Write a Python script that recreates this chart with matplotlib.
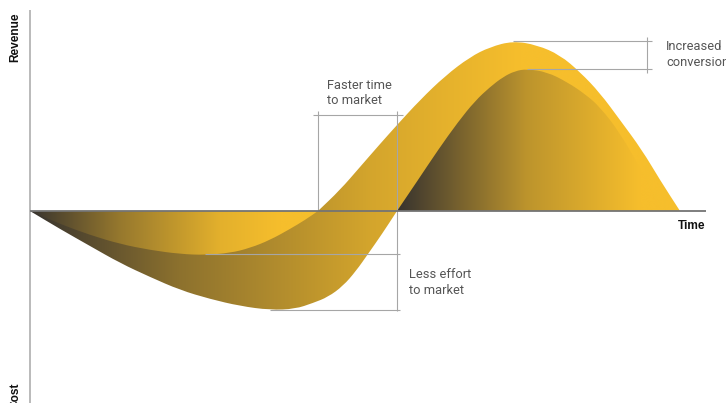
import numpy as np
import matplotlib
matplotlib.use("Agg")
import matplotlib.pyplot as plt
from matplotlib.patches import PathPatch
from matplotlib.path import Path

# Revenue/cost over time for two product launches
# (time on x, revenue positive / cost negative on y)
improved_t = [0, 30, 60, 90, 120, 150, 175, 200, 220, 240, 260, 275, 288,
              310, 330, 350, 367, 390, 415, 440, 460, 483, 507, 530, 550,
              570, 590, 612, 630, 650]
improved_v = [0, -13, -24, -33, -39, -43, -44, -42, -37, -29, -18, -9, 0,
              21, 44, 67, 86, 111, 135, 154, 164, 170, 166, 156, 139,
              118, 91, 61, 31, 0]

baseline_t = [0, 30, 60, 90, 120, 150, 180, 210, 240, 265, 283, 298, 313,
              326, 338, 352, 367, 388, 408, 428, 445, 460, 473, 485, 497,
              517, 537, 555, 570, 590, 610, 625, 631]
baseline_v = [0, -18, -35, -52, -66, -79, -88, -95, -99, -98, -92, -86, -75,
              -60, -43, -23, 0, 31, 61, 89, 110, 124, 134, 140, 142,
              139, 129, 117, 104, 78, 43, 13, 0]

axis_labels = {"revenue": "Revenue", "cost": "Cost", "time": "Time"}
notes = {"faster": "Faster time\nto market",
         "effort": "Less effort\nto market",
         "conversion": "Increased\nconversion"}

DARK = np.array([0x37, 0x33, 0x2F]) / 255
YELLOW = np.array([0xF6, 0xBE, 0x2C]) / 255


def smooth_segment(pts, first):
    """Quadratic spline path pieces running through a list of points."""
    pts = [np.asarray(p, float) for p in pts]
    verts = [pts[0]]
    codes = [Path.MOVETO if first else Path.LINETO]
    if len(pts) == 2:
        verts.append(pts[1])
        codes.append(Path.LINETO)
        return verts, codes
    verts.append((pts[0] + pts[1]) / 2)
    codes.append(Path.LINETO)
    for i in range(1, len(pts) - 1):
        verts += [pts[i], (pts[i] + pts[i + 1]) / 2]
        codes += [Path.CURVE3, Path.CURVE3]
    verts.append(pts[-1])
    codes.append(Path.LINETO)
    return verts, codes


def build_path(pieces):
    verts, codes = [], []
    for k, (pts, smooth) in enumerate(pieces):
        if smooth:
            v, c = smooth_segment(pts, k == 0)
        else:
            v = [np.asarray(p, float) for p in pts]
            c = [Path.MOVETO if k == 0 else Path.LINETO] + [Path.LINETO] * (len(pts) - 1)
        verts += v
        codes += c
    verts.append(verts[0])
    codes.append(Path.CLOSEPOLY)
    return Path(np.array(verts), codes)


def gradient_fill(ax, path, stop_x, stop_f, zorder):
    patch = PathPatch(path, facecolor="none", edgecolor="none")
    ax.add_patch(patch)
    (x0, y0), (x1, y1) = path.get_extents().get_points()
    gx = np.linspace(x0, x1, 800)
    f = np.interp(gx, stop_x, stop_f)[:, None]
    rgb = DARK * (1 - f) + YELLOW * f
    img = np.repeat(rgb[None, :, :], 2, axis=0)
    im = ax.imshow(img, extent=[x0, x1, y0 - 1, y1 + 1], origin="lower",
                   aspect="auto", interpolation="bilinear", zorder=zorder)
    im.set_clip_path(patch)
    return im


fig = plt.figure(figsize=(7.26, 4.03), dpi=100)
ax = fig.add_axes([0, 0, 1, 1])

it = np.array(improved_t, float)
iv = np.array(improved_v, float)
bt = np.array(baseline_t, float)
bv = np.array(baseline_v, float)
ipts = list(zip(it, iv))
bpts = list(zip(bt, bv))

i_cross = int(np.where((iv == 0) & (it > 0))[0][0])   # improved break-even
b_cross = int(np.where((bv == 0) & (bt > 0))[0][0])   # baseline break-even

# full area covered by either launch
union = build_path([
    ([(0, 0), ipts[i_cross]], False),
    (ipts[i_cross:], True),
    ([ipts[-1], bpts[b_cross]], False),
    (bpts[:b_cross + 1][::-1], True),
])
gradient_fill(ax, union, [0, 150, 340, 490], [0, 0.45, 0.82, 1.0], zorder=1)

# improved launch cost area
imp_cost = build_path([(ipts[:i_cross + 1], True)])
gradient_fill(ax, imp_cost, [0, 90, 190, 250], [0, 0.5, 0.9, 1.0], zorder=2)

# baseline launch revenue area
base_rev = build_path([(bpts[b_cross:], True)])
gradient_fill(ax, base_rev, [bt[b_cross], 497, 610], [0, 0.7, 1.0], zorder=2)

# axes
ax.plot([0, 0], [201, -192], color="#b4b4b4", lw=1.3, zorder=3,
        solid_capstyle="butt")
ax.plot([0, 676], [0, 0], color="#747474", lw=1.3, zorder=5,
        solid_capstyle="butt")

bk = dict(color="#a6a6a6", lw=0.8, zorder=4, solid_capstyle="butt")
t_fast, t_base = it[i_cross], bt[b_cross]
i_min, b_min = iv.min(), bv.min()
i_max, b_max = iv.max(), bv.max()
t_imin, t_bmin = it[iv.argmin()], bt[bv.argmin()]
t_imax, t_bmax = it[iv.argmax()], bt[bv.argmax()]

# faster time to market bracket
ax.plot([t_fast - 5, t_base + 6], [96, 96], **bk)
ax.plot([t_fast, t_fast], [100, 0], **bk)
ax.plot([t_base, t_base], [100, b_min - 1], **bk)
# less effort bracket
ax.plot([t_imin, t_base + 3], [i_min + 1, i_min + 1], **bk)
ax.plot([t_bmin, t_base + 3], [b_min, b_min], **bk)
# increased conversion bracket
ax.plot([t_imax, 622], [i_max, i_max], **bk)
ax.plot([t_bmax, 622], [b_max, b_max], **bk)
ax.plot([617, 617], [i_max + 4, b_max - 4], **bk)

lab = dict(family="Liberation Sans", weight="bold", fontsize=8.6,
           color="#111111")
ax.text(-14.5, 174, axis_labels["revenue"], rotation=90, ha="center",
        va="center", **lab)
ax.text(-14.5, -185, axis_labels["cost"], rotation=90, ha="center",
        va="center", **lab)
ax.text(662, -15, axis_labels["time"], ha="center", va="center", **lab)

note = dict(family="Roboto", weight="normal", fontsize=9.3, color="#555555",
            ha="left", va="top", linespacing=1.25)
ax.text(297, 132, notes["faster"], **note)
ax.text(379, -57, notes["effort"], **note)
ax.text(636, 171, notes["conversion"], **note)

ax.set_xlim(-30, 696)
ax.set_ylim(-192, 211)
ax.axis("off")

fig.savefig("out.png", dpi=100)
